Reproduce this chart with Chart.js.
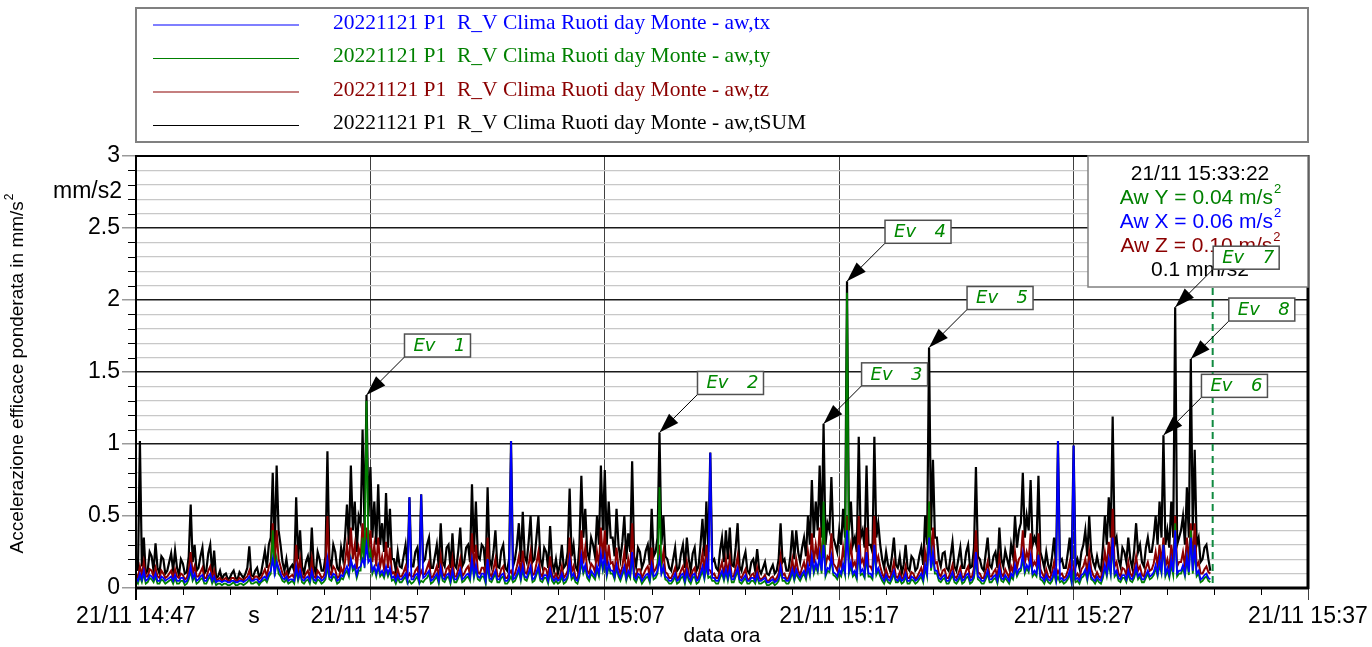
<!DOCTYPE html>
<html>
<head>
<meta charset="utf-8">
<script src="https://cdn.jsdelivr.net/npm/chart.js@4.4.1/dist/chart.umd.min.js"></script>
<style>
  html, body { margin: 0; padding: 0; background: #fff; }
  canvas { display: block; }
</style>
</head>
<body>
<canvas id="awChart" width="1372" height="647"></canvas>
<script>
// one value every 5 s, first sample at 21/11 14:47:26
const startSec = 14 * 3600 + 47 * 60 + 26;
const stepSec = 5;
const spanSec = 50 * 60;
const cursorSec = 15 * 3600 + 33 * 60 + 22;

const seriesLabels = [
  '20221121 P1  R_V Clima Ruoti day Monte - aw,tx',
  '20221121 P1  R_V Clima Ruoti day Monte - aw,ty',
  '20221121 P1  R_V Clima Ruoti day Monte - aw,tz',
  '20221121 P1  R_V Clima Ruoti day Monte - aw,tSUM'
];

const xTickLabels = ['21/11 14:47', '21/11 14:57', '21/11 15:07', '21/11 15:17', '21/11 15:27', '21/11 15:37'];

const awX = [
  0.07,0.05,0.10,0.06,0.12,0.05,0.06,0.09,0.08,0.06,0.10,0.05,0.05,0.08,0.07,0.05,0.06,0.07,0.08,0.05,
  0.09,0.05,0.05,0.07,0.07,0.04,0.05,0.08,0.15,0.07,0.10,0.05,0.06,0.08,0.09,0.05,0.05,0.08,0.10,0.05,
  0.08,0.04,0.05,0.05,0.04,0.05,0.05,0.04,0.04,0.05,0.05,0.04,0.04,0.05,0.05,0.04,0.05,0.06,0.08,0.05,
  0.05,0.06,0.06,0.04,0.05,0.07,0.08,0.06,0.10,0.12,0.20,0.10,0.18,0.14,0.10,0.07,0.06,0.08,0.05,0.06,
  0.06,0.05,0.15,0.07,0.12,0.06,0.05,0.07,0.08,0.05,0.12,0.06,0.05,0.08,0.07,0.05,0.06,0.08,0.20,0.08,
  0.07,0.10,0.09,0.05,0.06,0.09,0.08,0.12,0.15,0.10,0.20,0.14,0.16,0.09,0.14,0.15,0.20,0.16,0.30,0.18,
  0.20,0.12,0.15,0.10,0.16,0.10,0.12,0.09,0.15,0.10,0.14,0.07,0.08,0.05,0.09,0.06,0.06,0.08,0.10,0.05,
  0.63,0.06,0.06,0.09,0.10,0.05,0.65,0.07,0.08,0.10,0.12,0.05,0.06,0.08,0.10,0.05,0.14,0.07,0.06,0.09,
  0.10,0.05,0.12,0.06,0.06,0.09,0.13,0.06,0.07,0.09,0.10,0.07,0.20,0.09,0.16,0.08,0.07,0.10,0.10,0.05,
  0.20,0.07,0.06,0.09,0.12,0.06,0.06,0.09,0.10,0.05,0.05,0.07,1.02,0.06,0.07,0.10,0.14,0.07,0.15,0.08,
  0.07,0.11,0.15,0.06,0.07,0.11,0.15,0.07,0.06,0.09,0.09,0.05,0.13,0.07,0.05,0.07,0.05,0.06,0.10,0.05,
  0.06,0.09,0.20,0.08,0.10,0.06,0.05,0.10,0.22,0.12,0.16,0.09,0.07,0.12,0.10,0.08,0.15,0.10,0.24,0.14,
  0.22,0.10,0.17,0.12,0.12,0.08,0.16,0.10,0.07,0.11,0.15,0.07,0.12,0.09,0.25,0.08,0.06,0.10,0.09,0.05,
  0.07,0.09,0.10,0.06,0.16,0.08,0.09,0.12,0.20,0.10,0.15,0.08,0.07,0.05,0.05,0.07,0.10,0.05,0.06,0.09,
  0.10,0.05,0.12,0.07,0.05,0.09,0.10,0.05,0.06,0.10,0.15,0.08,0.18,0.09,0.94,0.07,0.07,0.05,0.05,0.09,
  0.12,0.07,0.13,0.07,0.14,0.06,0.06,0.10,0.14,0.06,0.05,0.07,0.09,0.05,0.05,0.07,0.07,0.05,0.10,0.05,
  0.05,0.06,0.07,0.04,0.04,0.05,0.06,0.04,0.05,0.07,0.15,0.07,0.07,0.05,0.05,0.08,0.13,0.07,0.13,0.09,
  0.07,0.10,0.12,0.08,0.16,0.10,0.22,0.12,0.18,0.13,0.24,0.12,0.30,0.10,0.14,0.13,0.22,0.11,0.10,0.08,
  0.13,0.10,0.17,0.11,0.40,0.12,0.18,0.10,0.12,0.08,0.30,0.11,0.13,0.09,0.25,0.10,0.10,0.08,0.30,0.11,
  0.14,0.10,0.07,0.05,0.09,0.06,0.05,0.08,0.12,0.06,0.05,0.08,0.05,0.06,0.10,0.05,0.05,0.08,0.07,0.05,
  0.06,0.08,0.10,0.06,0.16,0.10,0.35,0.14,0.25,0.12,0.12,0.07,0.06,0.08,0.09,0.05,0.05,0.08,0.11,0.06,
  0.05,0.07,0.10,0.05,0.06,0.09,0.10,0.05,0.06,0.09,0.25,0.08,0.07,0.05,0.05,0.08,0.12,0.06,0.06,0.08,
  0.09,0.05,0.14,0.07,0.06,0.09,0.07,0.05,0.10,0.08,0.16,0.10,0.13,0.14,0.24,0.12,0.16,0.13,0.22,0.10,
  0.12,0.10,0.23,0.08,0.07,0.05,0.09,0.06,0.05,0.07,0.12,0.06,1.02,0.06,0.07,0.05,0.06,0.08,0.12,0.05,
  0.99,0.06,0.07,0.05,0.09,0.10,0.13,0.07,0.16,0.08,0.06,0.05,0.08,0.06,0.05,0.09,0.16,0.10,0.20,0.11,
  0.35,0.10,0.12,0.07,0.06,0.09,0.09,0.06,0.12,0.07,0.06,0.09,0.15,0.08,0.10,0.06,0.06,0.09,0.12,0.08,
  0.09,0.11,0.16,0.10,0.20,0.12,0.30,0.10,0.14,0.09,0.20,0.11,0.40,0.10,0.12,0.12,0.16,0.10,0.22,0.11,
  0.35,0.12,0.30,0.10,0.12,0.06,0.07,0.09,0.10,0.07,0.06
];

const awY = [
  0.05,0.03,0.08,0.04,0.10,0.03,0.04,0.07,0.06,0.04,0.08,0.03,0.03,0.06,0.05,0.03,0.04,0.05,0.06,0.03,
  0.07,0.03,0.03,0.05,0.05,0.02,0.03,0.06,0.12,0.05,0.08,0.03,0.04,0.06,0.07,0.03,0.03,0.06,0.08,0.03,
  0.06,0.02,0.03,0.03,0.02,0.03,0.03,0.02,0.02,0.03,0.04,0.02,0.02,0.03,0.03,0.02,0.03,0.04,0.06,0.03,
  0.03,0.04,0.04,0.02,0.04,0.05,0.06,0.04,0.08,0.10,0.40,0.08,0.20,0.10,0.08,0.05,0.04,0.06,0.03,0.04,
  0.05,0.03,0.12,0.05,0.10,0.04,0.03,0.05,0.06,0.03,0.10,0.04,0.03,0.06,0.05,0.03,0.04,0.06,0.15,0.06,
  0.05,0.08,0.07,0.03,0.04,0.07,0.06,0.10,0.12,0.08,0.20,0.12,0.14,0.07,0.12,0.12,0.35,0.14,1.30,0.20,
  0.25,0.10,0.14,0.08,0.15,0.08,0.10,0.07,0.13,0.08,0.12,0.05,0.06,0.03,0.07,0.04,0.04,0.06,0.08,0.03,
  0.05,0.03,0.04,0.06,0.08,0.03,0.05,0.04,0.06,0.07,0.10,0.03,0.04,0.06,0.08,0.03,0.12,0.05,0.04,0.07,
  0.08,0.03,0.10,0.04,0.04,0.07,0.11,0.04,0.05,0.07,0.08,0.05,0.18,0.07,0.14,0.06,0.05,0.08,0.08,0.03,
  0.16,0.05,0.04,0.07,0.10,0.04,0.04,0.07,0.08,0.03,0.03,0.05,0.08,0.04,0.05,0.08,0.12,0.05,0.13,0.06,
  0.05,0.09,0.13,0.04,0.05,0.09,0.13,0.05,0.04,0.07,0.07,0.03,0.11,0.05,0.03,0.05,0.03,0.04,0.08,0.03,
  0.04,0.07,0.16,0.06,0.08,0.04,0.03,0.08,0.18,0.10,0.14,0.07,0.05,0.10,0.08,0.06,0.13,0.08,0.20,0.12,
  0.20,0.08,0.15,0.10,0.10,0.06,0.14,0.08,0.05,0.09,0.13,0.05,0.10,0.07,0.22,0.06,0.04,0.08,0.07,0.03,
  0.05,0.07,0.08,0.04,0.14,0.06,0.07,0.10,0.70,0.10,0.13,0.06,0.05,0.03,0.03,0.05,0.08,0.03,0.04,0.07,
  0.08,0.03,0.10,0.05,0.03,0.07,0.08,0.03,0.04,0.08,0.12,0.06,0.15,0.07,0.08,0.05,0.05,0.03,0.03,0.07,
  0.10,0.05,0.11,0.05,0.12,0.04,0.04,0.08,0.12,0.04,0.03,0.05,0.07,0.03,0.03,0.05,0.05,0.03,0.08,0.03,
  0.03,0.04,0.05,0.02,0.02,0.03,0.04,0.02,0.03,0.05,0.12,0.05,0.05,0.03,0.03,0.06,0.11,0.05,0.10,0.07,
  0.05,0.08,0.10,0.06,0.14,0.08,0.20,0.10,0.15,0.11,0.22,0.10,0.60,0.08,0.12,0.11,0.20,0.09,0.08,0.06,
  0.10,0.08,0.15,0.09,2.05,0.10,0.15,0.08,0.10,0.06,0.25,0.09,0.10,0.07,0.22,0.08,0.08,0.06,0.28,0.09,
  0.12,0.08,0.05,0.03,0.07,0.04,0.03,0.06,0.10,0.04,0.04,0.06,0.03,0.04,0.08,0.03,0.03,0.06,0.05,0.03,
  0.04,0.06,0.08,0.04,0.14,0.08,0.60,0.12,0.22,0.10,0.10,0.05,0.04,0.06,0.07,0.03,0.03,0.06,0.09,0.04,
  0.03,0.05,0.08,0.03,0.04,0.07,0.08,0.03,0.04,0.07,0.20,0.06,0.05,0.03,0.03,0.06,0.10,0.04,0.04,0.06,
  0.07,0.03,0.11,0.05,0.04,0.07,0.05,0.03,0.08,0.06,0.14,0.08,0.11,0.12,0.20,0.10,0.14,0.11,0.20,0.08,
  0.10,0.08,0.20,0.06,0.05,0.03,0.07,0.04,0.03,0.05,0.10,0.04,0.08,0.04,0.05,0.03,0.04,0.06,0.10,0.03,
  0.10,0.04,0.05,0.03,0.07,0.08,0.11,0.05,0.14,0.06,0.05,0.03,0.06,0.04,0.03,0.07,0.14,0.08,0.17,0.09,
  0.30,0.08,0.10,0.05,0.04,0.07,0.07,0.04,0.10,0.05,0.04,0.07,0.12,0.06,0.08,0.04,0.04,0.07,0.10,0.06,
  0.07,0.09,0.14,0.08,0.16,0.10,0.30,0.08,0.12,0.07,0.16,0.09,0.45,0.08,0.10,0.10,0.14,0.08,0.20,0.09,
  0.40,0.10,0.26,0.08,0.10,0.04,0.05,0.07,0.08,0.05,0.04
];

const awZ = [
  0.10,0.07,0.15,0.09,0.18,0.08,0.08,0.13,0.12,0.08,0.14,0.08,0.07,0.12,0.10,0.07,0.08,0.10,0.12,0.07,
  0.13,0.08,0.07,0.10,0.09,0.06,0.07,0.12,0.25,0.10,0.15,0.08,0.08,0.11,0.14,0.07,0.07,0.12,0.15,0.07,
  0.12,0.05,0.06,0.07,0.05,0.06,0.07,0.05,0.05,0.07,0.07,0.05,0.05,0.07,0.06,0.05,0.07,0.08,0.12,0.06,
  0.06,0.08,0.08,0.06,0.07,0.10,0.13,0.08,0.15,0.18,0.45,0.15,0.40,0.20,0.15,0.10,0.08,0.11,0.07,0.08,
  0.09,0.07,0.30,0.10,0.20,0.08,0.07,0.10,0.12,0.07,0.20,0.08,0.07,0.12,0.10,0.07,0.08,0.12,0.50,0.12,
  0.09,0.15,0.13,0.07,0.08,0.14,0.10,0.18,0.30,0.15,0.42,0.20,0.30,0.13,0.28,0.22,0.45,0.22,0.42,0.25,
  0.40,0.18,0.30,0.15,0.35,0.15,0.22,0.13,0.32,0.14,0.28,0.10,0.11,0.07,0.13,0.08,0.08,0.11,0.15,0.07,
  0.10,0.08,0.08,0.12,0.14,0.07,0.12,0.09,0.10,0.14,0.18,0.07,0.08,0.11,0.15,0.07,0.22,0.10,0.08,0.13,
  0.15,0.07,0.20,0.08,0.08,0.13,0.20,0.08,0.10,0.13,0.15,0.09,0.38,0.13,0.30,0.11,0.10,0.14,0.14,0.07,
  0.35,0.10,0.08,0.13,0.20,0.08,0.08,0.13,0.15,0.07,0.07,0.10,0.12,0.08,0.10,0.15,0.22,0.10,0.26,0.11,
  0.10,0.16,0.25,0.09,0.10,0.17,0.25,0.10,0.08,0.14,0.13,0.07,0.22,0.09,0.07,0.10,0.06,0.08,0.15,0.07,
  0.09,0.12,0.35,0.11,0.15,0.07,0.07,0.14,0.40,0.17,0.28,0.12,0.10,0.17,0.15,0.11,0.25,0.15,0.42,0.20,
  0.40,0.15,0.30,0.17,0.18,0.10,0.28,0.14,0.10,0.15,0.25,0.10,0.20,0.12,0.45,0.11,0.08,0.13,0.13,0.07,
  0.10,0.13,0.15,0.08,0.28,0.11,0.13,0.17,0.30,0.15,0.25,0.11,0.10,0.07,0.07,0.10,0.14,0.06,0.08,0.12,
  0.15,0.07,0.18,0.10,0.07,0.12,0.14,0.06,0.08,0.15,0.24,0.11,0.30,0.13,0.12,0.09,0.10,0.07,0.07,0.13,
  0.18,0.09,0.20,0.10,0.21,0.08,0.08,0.14,0.22,0.08,0.07,0.10,0.13,0.06,0.06,0.09,0.10,0.06,0.14,0.07,
  0.06,0.07,0.09,0.05,0.05,0.07,0.08,0.05,0.07,0.10,0.22,0.09,0.10,0.06,0.07,0.11,0.20,0.10,0.20,0.12,
  0.09,0.14,0.18,0.11,0.25,0.15,0.38,0.17,0.30,0.20,0.42,0.17,0.40,0.15,0.22,0.20,0.38,0.17,0.15,0.12,
  0.20,0.15,0.28,0.17,0.50,0.20,0.30,0.15,0.18,0.12,0.50,0.17,0.20,0.14,0.42,0.15,0.15,0.12,0.50,0.17,
  0.22,0.15,0.10,0.07,0.13,0.08,0.07,0.11,0.18,0.08,0.07,0.11,0.06,0.08,0.15,0.07,0.07,0.11,0.10,0.06,
  0.08,0.11,0.14,0.08,0.25,0.15,0.60,0.20,0.42,0.17,0.18,0.10,0.08,0.12,0.13,0.07,0.07,0.11,0.16,0.08,
  0.07,0.10,0.14,0.07,0.08,0.12,0.15,0.07,0.08,0.14,0.40,0.11,0.10,0.07,0.07,0.12,0.18,0.08,0.08,0.11,
  0.13,0.07,0.21,0.10,0.08,0.13,0.10,0.07,0.15,0.11,0.25,0.14,0.20,0.22,0.40,0.17,0.25,0.20,0.38,0.15,
  0.18,0.15,0.38,0.13,0.10,0.07,0.13,0.08,0.07,0.11,0.18,0.08,0.12,0.09,0.10,0.07,0.08,0.12,0.18,0.08,
  0.14,0.08,0.10,0.07,0.13,0.15,0.20,0.11,0.25,0.13,0.09,0.07,0.11,0.08,0.07,0.14,0.25,0.15,0.32,0.17,
  0.55,0.15,0.18,0.10,0.08,0.14,0.13,0.09,0.18,0.10,0.08,0.13,0.22,0.12,0.15,0.09,0.08,0.14,0.18,0.12,
  0.13,0.17,0.25,0.15,0.30,0.17,0.35,0.15,0.20,0.13,0.30,0.17,0.50,0.15,0.18,0.18,0.25,0.15,0.35,0.17,
  0.45,0.18,0.45,0.15,0.18,0.10,0.10,0.13,0.15,0.11,0.10
];

const awSum = [
  0.20,0.12,1.02,0.15,0.35,0.10,0.12,0.25,0.22,0.12,0.31,0.14,0.10,0.22,0.20,0.10,0.12,0.18,0.24,0.12,
  0.26,0.14,0.09,0.20,0.17,0.10,0.11,0.22,0.58,0.18,0.30,0.12,0.14,0.22,0.28,0.10,0.12,0.24,0.30,0.10,
  0.26,0.07,0.08,0.12,0.06,0.09,0.10,0.06,0.07,0.10,0.12,0.07,0.06,0.11,0.09,0.07,0.10,0.14,0.29,0.09,
  0.08,0.12,0.14,0.08,0.10,0.18,0.26,0.14,0.30,0.35,0.80,0.25,0.85,0.40,0.30,0.18,0.12,0.20,0.10,0.14,
  0.16,0.12,0.63,0.20,0.40,0.15,0.10,0.18,0.22,0.12,0.42,0.15,0.10,0.25,0.20,0.12,0.12,0.22,0.95,0.20,
  0.15,0.30,0.25,0.14,0.12,0.28,0.20,0.35,0.58,0.30,0.85,0.40,0.60,0.25,0.50,0.45,1.10,0.40,1.34,0.50,
  0.84,0.35,0.60,0.30,0.72,0.30,0.45,0.25,0.66,0.28,0.55,0.20,0.20,0.12,0.25,0.15,0.14,0.22,0.30,0.14,
  0.63,0.15,0.15,0.25,0.28,0.12,0.65,0.18,0.20,0.30,0.35,0.14,0.14,0.22,0.30,0.14,0.45,0.18,0.15,0.28,
  0.30,0.14,0.38,0.16,0.14,0.26,0.42,0.15,0.18,0.28,0.30,0.18,0.72,0.25,0.60,0.22,0.20,0.30,0.28,0.12,
  0.70,0.20,0.15,0.25,0.40,0.15,0.14,0.26,0.30,0.14,0.12,0.20,1.02,0.15,0.20,0.30,0.45,0.18,0.53,0.22,
  0.18,0.32,0.50,0.18,0.20,0.35,0.50,0.20,0.15,0.28,0.25,0.14,0.43,0.18,0.12,0.20,0.10,0.16,0.30,0.14,
  0.16,0.25,0.69,0.22,0.30,0.15,0.12,0.30,0.78,0.35,0.55,0.25,0.20,0.35,0.30,0.22,0.50,0.30,0.85,0.40,
  0.82,0.30,0.60,0.35,0.35,0.22,0.55,0.30,0.20,0.32,0.50,0.20,0.38,0.25,0.88,0.22,0.15,0.28,0.25,0.14,
  0.18,0.26,0.30,0.16,0.55,0.22,0.25,0.35,1.08,0.30,0.50,0.22,0.20,0.14,0.12,0.20,0.28,0.12,0.14,0.24,
  0.30,0.14,0.35,0.20,0.12,0.24,0.28,0.12,0.15,0.30,0.48,0.22,0.60,0.25,0.94,0.18,0.20,0.14,0.12,0.26,
  0.35,0.18,0.40,0.20,0.42,0.16,0.15,0.28,0.45,0.15,0.12,0.20,0.25,0.12,0.10,0.18,0.20,0.12,0.27,0.13,
  0.10,0.14,0.18,0.10,0.09,0.13,0.16,0.10,0.12,0.20,0.45,0.18,0.20,0.12,0.12,0.22,0.40,0.20,0.40,0.25,
  0.18,0.28,0.35,0.22,0.50,0.30,0.75,0.35,0.60,0.40,0.85,0.35,1.14,0.30,0.45,0.40,0.77,0.35,0.30,0.25,
  0.40,0.30,0.55,0.35,2.13,0.40,0.60,0.30,0.35,0.25,1.05,0.35,0.40,0.28,0.85,0.30,0.30,0.25,1.05,0.35,
  0.45,0.30,0.20,0.14,0.25,0.16,0.12,0.22,0.35,0.16,0.14,0.22,0.10,0.16,0.30,0.14,0.12,0.22,0.20,0.12,
  0.14,0.22,0.28,0.16,0.50,0.30,1.67,0.40,0.89,0.35,0.35,0.20,0.15,0.24,0.25,0.14,0.12,0.22,0.32,0.15,
  0.12,0.20,0.28,0.14,0.14,0.25,0.30,0.14,0.15,0.28,0.84,0.22,0.20,0.14,0.12,0.24,0.35,0.16,0.14,0.22,
  0.25,0.14,0.42,0.20,0.15,0.26,0.20,0.14,0.30,0.22,0.50,0.28,0.40,0.45,0.80,0.35,0.50,0.40,0.75,0.30,
  0.35,0.30,0.78,0.25,0.20,0.14,0.25,0.16,0.12,0.22,0.35,0.15,1.02,0.18,0.20,0.14,0.14,0.24,0.35,0.15,
  0.99,0.15,0.20,0.14,0.25,0.30,0.40,0.22,0.50,0.25,0.18,0.14,0.22,0.15,0.12,0.28,0.50,0.30,0.63,0.35,
  1.19,0.30,0.35,0.20,0.15,0.28,0.25,0.18,0.35,0.20,0.14,0.26,0.45,0.25,0.30,0.18,0.15,0.28,0.35,0.25,
  0.25,0.35,0.50,0.30,0.60,0.35,1.06,0.30,0.40,0.28,0.60,0.35,1.95,0.30,0.35,0.40,0.50,0.30,0.70,0.35,
  1.59,0.40,0.96,0.30,0.35,0.18,0.20,0.28,0.30,0.20,0.12
];

// sample index of each marked event (Ev 1 .. Ev 8)
const eventIdx = [118, 268, 352, 364, 406, 526, 532, 540];

const seriesValues = [awX, awY, awZ, awSum];
const seriesColors = ['#0000ff', '#008000', '#8b0000', '#000000'];
const seriesWidths = [1.8, 1.8, 2, 2.2];
const legendTextColors = ['#0000ff', '#008000', '#8b0000', '#000000'];

Chart.defaults.font.family = "'Liberation Sans', Arial, sans-serif";
Chart.defaults.color = '#000';

function two(n) { return String(n).padStart(2, '0'); }
function clock(sec) {
  return '21/11 ' + two(Math.floor(sec / 3600)) + ':' + two(Math.floor(sec % 3600 / 60)) + ':' + two(sec % 60);
}

function line(c, x0, y0, x1, y1) {
  c.beginPath(); c.moveTo(x0, y0); c.lineTo(x1, y1); c.stroke();
}

// centred text with an optional small raised "2" at the end
function supText(c, txt, sup, cx, y, size) {
  c.font = size + "px 'Liberation Sans', Arial, sans-serif";
  const w1 = c.measureText(txt).width;
  c.font = Math.round(size * 0.62) + "px 'Liberation Sans', Arial, sans-serif";
  const w2 = sup ? c.measureText(sup).width : 0;
  const x0 = cx - (w1 + w2) / 2;
  c.textAlign = 'left';
  c.font = size + "px 'Liberation Sans', Arial, sans-serif";
  c.fillText(txt, x0, y);
  if (sup) {
    c.font = Math.round(size * 0.62) + "px 'Liberation Sans', Arial, sans-serif";
    c.fillText(sup, x0 + w1 + 1, y - size * 0.42);
  }
}

function arrow(c, x0, y0, x1, y1) {
  c.strokeStyle = '#000'; c.lineWidth = 1;
  line(c, x0, y0, x1, y1);
  const ang = Math.atan2(y1 - y0, x1 - x0);
  const len = 20, half = 6.5;
  const bx = x1 - len * Math.cos(ang), by = y1 - len * Math.sin(ang);
  c.fillStyle = '#000';
  c.beginPath();
  c.moveTo(x1, y1);
  c.lineTo(bx + half * Math.sin(ang), by - half * Math.cos(ang));
  c.lineTo(bx - half * Math.sin(ang), by + half * Math.cos(ang));
  c.closePath(); c.fill();
}

const sketchPlugin = {
  id: 'sketch',
  afterDraw(chart) {
    const c = chart.ctx, a = chart.chartArea, xs = chart.scales.x, ys = chart.scales.y;
    c.save();

    // plot frame
    c.strokeStyle = '#000';
    c.lineWidth = 2; line(c, a.left, a.top, a.right, a.top);
    c.lineWidth = 3; line(c, a.right, a.top - 1, a.right, a.bottom + 1);
    c.lineWidth = 3; line(c, a.left, a.bottom, a.right + 1, a.bottom);
    c.lineWidth = 2; line(c, a.left, a.top - 1, a.left, a.bottom + 12);

    // minor ticks
    c.lineWidth = 1;
    for (let s = startSec + 120; s < startSec + spanSec; s += 120) {
      if ((s - startSec) % 600 === 0) continue;
      const px = Math.round(xs.getPixelForValue(s)) + 0.5;
      line(c, px, a.bottom + 1, px, a.bottom + 7);
    }
    for (let t = 1; t < 30; t++) {
      if (t % 5 === 0) continue;
      const py = Math.round(ys.getPixelForValue(t / 10)) + 0.5;
      line(c, a.left - 8, py, a.left, py);
    }

    // axis texts
    c.fillStyle = '#000';
    c.font = "23px 'Liberation Sans', Arial, sans-serif";
    c.textBaseline = 'middle';
    c.textAlign = 'right';
    c.fillText('mm/s2', a.left - 14, ys.getPixelForValue(2.75));
    c.textAlign = 'center';
    c.fillText('s', 254, 617);
    c.font = "21px 'Liberation Sans', Arial, sans-serif";
    c.fillText('data ora', (a.left + a.right) / 2, 636);
    c.save();
    c.translate(18, (a.top + a.bottom) / 2 + 2);
    c.rotate(-Math.PI / 2);
    supText(c, 'Accelerazione efficace ponderata in mm/s', '2', 0, 0, 19);
    c.restore();

    // legend
    c.strokeStyle = '#808080'; c.lineWidth = 2;
    c.strokeRect(a.left, 8, a.right - a.left, 134);
    c.textAlign = 'left';
    c.font = "21.5px 'Liberation Serif', 'Times New Roman', serif";
    chart.data.datasets.forEach((ds, k) => {
      const y = 25 + k * 33.5;
      c.strokeStyle = ds.borderColor; c.lineWidth = 1.2;
      line(c, 153, y, 299, y);
      c.fillStyle = legendTextColors[k];
      c.fillText(ds.label, 333, y - 2);
    });

    // cursor
    const cx = xs.getPixelForValue(cursorSec);
    c.strokeStyle = '#108a40'; c.lineWidth = 2; c.setLineDash([7, 5]);
    line(c, cx, a.top, cx, a.bottom);
    c.setLineDash([]);

    // cursor readout
    const last = awSum.length - 1;
    const bx0 = a.right - 220, by0 = a.top, bw = 220, bh = 131;
    c.fillStyle = '#fff'; c.fillRect(bx0, by0, bw, bh);
    c.strokeStyle = '#808080'; c.lineWidth = 1.5; c.strokeRect(bx0, by0, bw, bh);
    const readout = [
      [clock(cursorSec), '', '#000'],
      ['Aw Y = ' + awY[last].toFixed(2) + ' m/s', '2', '#008000'],
      ['Aw X = ' + awX[last].toFixed(2) + ' m/s', '2', '#0000ff'],
      ['Aw Z = ' + awZ[last].toFixed(2) + ' m/s', '2', '#8b0000'],
      [awSum[last].toFixed(1) + ' mm/s2', '', '#000']
    ];
    readout.forEach(([txt, sup, col], k) => {
      c.fillStyle = col;
      supText(c, txt, sup, bx0 + bw / 2 + 2, by0 + 18 + k * 24, 21);
    });

    // event labels
    eventIdx.forEach((idx, k) => {
      const px = xs.getPixelForValue(startSec + idx * stepSec);
      const py = ys.getPixelForValue(awSum[idx]);
      const lx = px + 38, ly = py - 38 - 23;
      arrow(c, lx, ly + 23, px, py);
      c.fillStyle = '#fff'; c.fillRect(lx, ly, 66, 23);
      c.strokeStyle = '#505050'; c.lineWidth = 1.5; c.strokeRect(lx, ly, 66, 23);
      c.fillStyle = '#008800';
      c.font = "italic 18px 'DejaVu Sans', sans-serif";
      c.textAlign = 'left'; c.fillText('Ev', lx + 9, ly + 12);
      c.textAlign = 'right'; c.fillText(String(k + 1), lx + 61, ly + 12);
    });

    c.restore();
  }
};

const ctx = document.getElementById('awChart').getContext('2d');
new Chart(ctx, {
  type: 'line',
  data: {
    datasets: seriesLabels.map((lab, k) => ({
      label: lab,
      data: seriesValues[k].map((v, i) => ({ x: startSec + i * stepSec, y: v })),
      borderColor: seriesColors[k],
      borderWidth: seriesWidths[k],
      borderJoinStyle: 'miter',
      pointRadius: 0,
      fill: false,
      tension: 0
    }))
  },
  options: {
    responsive: false,
    animation: false,
    layout: { padding: { top: 156, right: 64, left: 0, bottom: 0 } },
    plugins: { legend: { display: false }, tooltip: { enabled: false } },
    scales: {
      x: {
        type: 'linear',
        min: startSec,
        max: startSec + spanSec,
        afterBuildTicks: s => { s.ticks = xTickLabels.map((_, k) => ({ value: startSec + k * 600 })); },
        afterFit: s => { s.height = 59; s.paddingLeft = 0; s.paddingRight = 0; },
        border: { display: false },
        grid: { color: '#404040', lineWidth: 1, tickLength: 12 },
        ticks: {
          autoSkip: false, maxRotation: 0, padding: 3,
          font: { size: 23 },
          callback: (v, i) => xTickLabels[i]
        }
      },
      y: {
        min: 0,
        max: 3,
        afterFit: s => { s.width = 136; s.paddingTop = 0; s.paddingBottom = 0; },
        border: { display: false },
        grid: {
          tickLength: 14,
          color: c => Math.round(c.tick.value * 10) % 5 === 0 ? '#1a1a1a' : '#c8c8c8',
          lineWidth: c => Math.round(c.tick.value * 10) % 5 === 0 ? 1.5 : 1.2,
          tickColor: c => Math.round(c.tick.value * 10) % 5 === 0 ? '#9a9a9a' : 'rgba(0,0,0,0)'
        },
        ticks: {
          stepSize: 0.1, autoSkip: false, padding: 2,
          font: { size: 23 },
          callback: v => { const t = Math.round(v * 10); return t % 5 === 0 ? String(t / 10) : ''; }
        }
      }
    }
  },
  plugins: [sketchPlugin]
});
</script>
</body>
</html>
